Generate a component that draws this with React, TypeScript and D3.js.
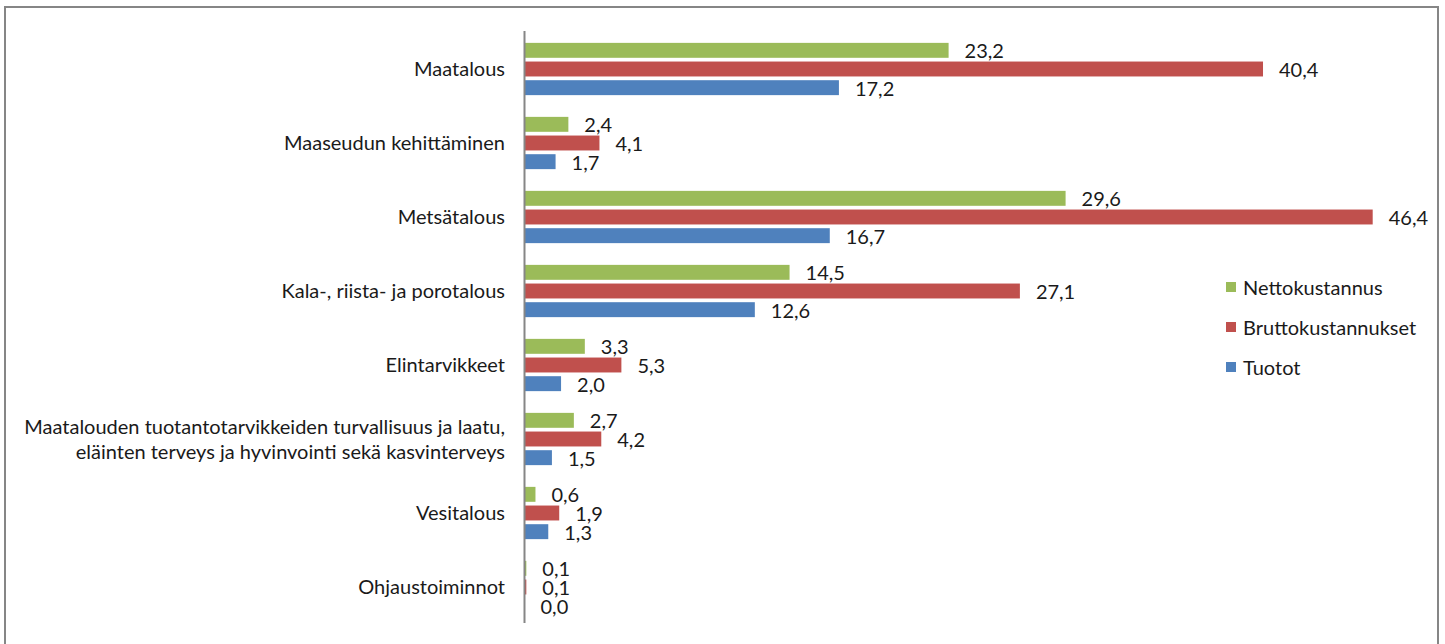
import React from "react";
import * as d3 from "d3";

const categories: string[][] = [
  ["Maatalous"],
  ["Maaseudun kehittäminen"],
  ["Metsätalous"],
  ["Kala-, riista- ja porotalous"],
  ["Elintarvikkeet"],
  ["Maatalouden tuotantotarvikkeiden turvallisuus ja laatu,", "eläinten terveys ja hyvinvointi sekä kasvinterveys"],
  ["Vesitalous"],
  ["Ohjaustoiminnot"],
];
const seriesNames = ["Nettokustannus", "Bruttokustannukset", "Tuotot"];
const seriesColors = ["#9BBB59", "#C0504D", "#4F81BD"];
const netto = [23.2, 2.4, 29.6, 14.5, 3.3, 2.7, 0.6, 0.1];
const brutto = [40.4, 4.1, 46.4, 27.1, 5.3, 4.2, 1.9, 0.1];
const tuotot = [17.2, 1.7, 16.7, 12.6, 2.0, 1.5, 1.3, 0.0];
const seriesValues = [netto, brutto, tuotot];

const W = 1445;
const H = 644;
const FONT = "Lato, 'Open Sans', sans-serif";
const FS = 20;

export default function App() {
  const x = d3.scaleLinear().domain([0, 50]).range([524.5, 1438.5]);
  const y = d3
    .scaleBand<number>()
    .domain(categories.map((_, i) => i))
    .range([31, 623])
    .paddingInner(0)
    .paddingOuter(0);
  const inner = d3
    .scaleBand<number>()
    .domain(seriesNames.map((_, i) => i))
    .range([10, 66])
    .paddingInner(0.2)
    .paddingOuter(0.1);
  const fmt = (v: number) => v.toFixed(1).replace(".", ",");
  const labelX = 505;
  const lineH = 25;

  return (
    <svg
      width={W}
      height={H}
      style={{ position: "absolute", left: 0, top: 0, background: "#fff" }}
      fontFamily={FONT}
    >
      <rect x={0} y={0} width={W} height={H} fill="#fff" />
      <rect x={5} y={7} width={1433} height={660} fill="none" stroke="#868686" strokeWidth={2} />
      {categories.map((lines, ci) => {
        const cy = (y(ci) ?? 0) + y.bandwidth() / 2;
        return (
          <g key={ci}>
            {lines.map((ln, li) => (
              <text
                key={li}
                x={labelX}
                y={cy + (li - (lines.length - 1) / 2) * lineH}
                textAnchor="end"
                dominantBaseline="central"
                fontSize={FS}
                fill="#1a1a1a"
              >
                {ln}
              </text>
            ))}
            {seriesValues.map((vals, si) => {
              const by = (y(ci) ?? 0) + (inner(si) ?? 0);
              const v = vals[ci];
              const w = x(v) - x(0);
              return (
                <g key={si}>
                  {w > 0 && (
                    <rect
                      x={x(0)}
                      y={by}
                      width={Math.max(w, 1.5)}
                      height={inner.bandwidth()}
                      fill={seriesColors[si]}
                    />
                  )}
                  <text
                    x={x(v) + 16}
                    y={by + inner.bandwidth() / 2}
                    dominantBaseline="central"
                    fontSize={FS}
                    fill="#1a1a1a"
                  >
                    {fmt(v)}
                  </text>
                </g>
              );
            })}
          </g>
        );
      })}
      <line x1={x(0)} x2={x(0)} y1={31} y2={623} stroke="#868686" strokeWidth={2} />
      {seriesNames.map((name, si) => {
        const ly = 287 + si * 40;
        return (
          <g key={name}>
            <rect x={1226} y={ly - 5} width={10} height={10} fill={seriesColors[si]} />
            <text x={1243} y={ly} dominantBaseline="central" fontSize={FS} fill="#1a1a1a">
              {name}
            </text>
          </g>
        );
      })}
    </svg>
  );
}
